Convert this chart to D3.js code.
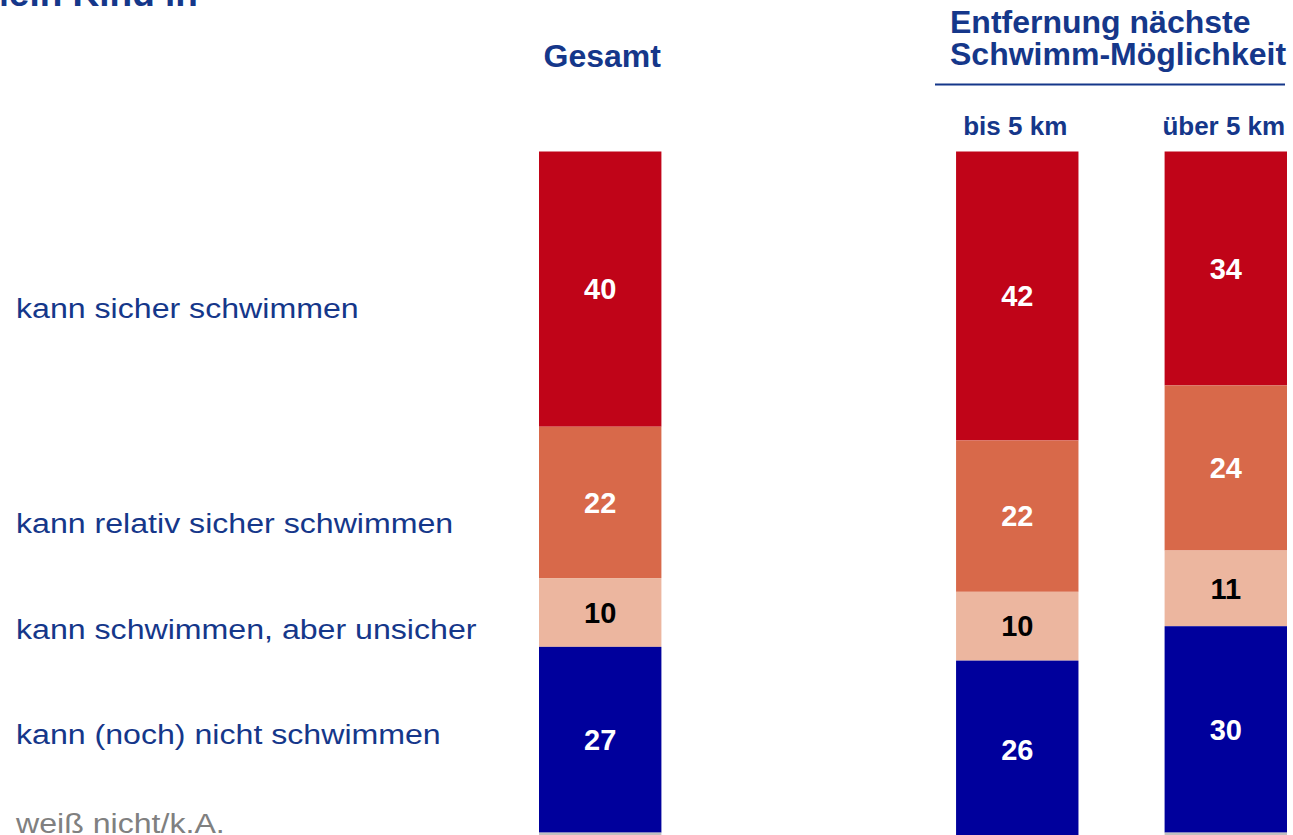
<!DOCTYPE html>
<html>
<head>
<meta charset="utf-8">
<script src="https://cdn.jsdelivr.net/npm/d3@7"></script>
<style>
  html, body { margin: 0; padding: 0; background: #fff; overflow: hidden; }
  svg { display: block; font-family: "Liberation Sans", Arial, sans-serif; }
</style>
</head>
<body>
<div id="chart-container"></div>
<script>
const categories = ["kann sicher schwimmen", "kann relativ sicher schwimmen", "kann schwimmen, aber unsicher", "kann (noch) nicht schwimmen", "weiß nicht/k.A."];
const groups = ["Gesamt", "bis 5 km", "über 5 km"];
const gesamt = [40, 22, 10, 27, 1];
const bis5km = [42, 22, 10, 26, 0];
const ueber5km = [34, 24, 11, 30, 1];
const groupTitle = ["Entfernung nächste", "Schwimm-Möglichkeit"];

const colors = ["#C00418", "#D8694A", "#ECB69F", "#00009C", "#C0C0C0"];
const labelColors = ["#fff", "#fff", "#000", "#fff", "#000"];
const textBlue = "#15378A";
// baselines of the category labels on the left
const labelY = [318, 533, 639, 744, 833];

const width = 1293, height = 835;
const svg = d3.select("#chart-container").append("svg")
  .attr("width", width).attr("height", height);

const series = [gesamt, bis5km, ueber5km];
const rows = groups.map((g, i) => {
  const r = { group: g };
  categories.forEach((c, j) => r[c] = series[i][j]);
  return r;
});

const x = d3.scaleBand()
  .domain(["Gesamt", "_gap", "bis 5 km", "über 5 km"])
  .range([539, 1287])
  .paddingInner(0.413)
  .paddingOuter(0);

const y = d3.scaleLinear().domain([0, 100]).range([151.5, 151.5 + 688]);

const stacked = d3.stack().keys(categories)(rows);

const layers = svg.append("g").selectAll("g")
  .data(stacked)
  .join("g")
  .attr("fill", (d, i) => colors[i]);

layers.selectAll("rect")
  .data(d => d)
  .join("rect")
  .attr("x", d => x(d.data.group))
  .attr("width", x.bandwidth())
  .attr("y", d => y(d[0]))
  .attr("height", d => y(d[1]) - y(d[0]));

// value labels (not for weiß nicht/k.A.)
stacked.forEach((layer, i) => {
  if (i === 4) return;
  svg.append("g").selectAll("text")
    .data(layer)
    .join("text")
    .attr("x", d => x(d.data.group) + x.bandwidth() / 2)
    .attr("y", d => (y(d[0]) + y(d[1])) / 2)
    .attr("dy", "0.35em")
    .attr("text-anchor", "middle")
    .attr("fill", labelColors[i])
    .style("font-size", "29px")
    .style("font-weight", "bold")
    .text(d => d[1] - d[0]);
});

// category labels
svg.append("g").selectAll("text")
  .data(categories)
  .join("text")
  .attr("transform", (d, i) => `translate(16,${labelY[i]}) scale(1.19,1)`)
  .attr("fill", (d, i) => i === 4 ? "#808080" : textBlue)
  .style("font-size", "27px")
  .text(d => d);

// column headers
svg.append("text")
  .attr("x", x("Gesamt") + x.bandwidth() / 2 + 2)
  .attr("y", 67)
  .attr("text-anchor", "middle")
  .attr("fill", textBlue)
  .style("font-size", "32px")
  .style("font-weight", "bold")
  .text("Gesamt");

svg.append("g").selectAll("text")
  .data(groups.slice(1))
  .join("text")
  .attr("x", d => x(d) + x.bandwidth() / 2 - 2)
  .attr("y", 135)
  .attr("text-anchor", "middle")
  .attr("fill", textBlue)
  .style("font-size", "26px")
  .style("font-weight", "bold")
  .text(d => d);

svg.append("g").selectAll("text")
  .data(groupTitle)
  .join("text")
  .attr("x", 950)
  .attr("y", (d, i) => 33 + i * 32)
  .attr("fill", textBlue)
  .style("font-size", "32px")
  .style("font-weight", "bold")
  .text(d => d);

svg.append("line")
  .attr("x1", 935).attr("x2", 1285)
  .attr("y1", 84.5).attr("y2", 84.5)
  .attr("stroke", textBlue)
  .attr("stroke-width", 2);

// title, cut off at the top edge
svg.append("text")
  .attr("x", -22)
  .attr("y", 5.5)
  .attr("fill", textBlue)
  .style("font-size", "37px")
  .style("font-weight", "bold")
  .text("Mein Kind in");
</script>
</body>
</html>
